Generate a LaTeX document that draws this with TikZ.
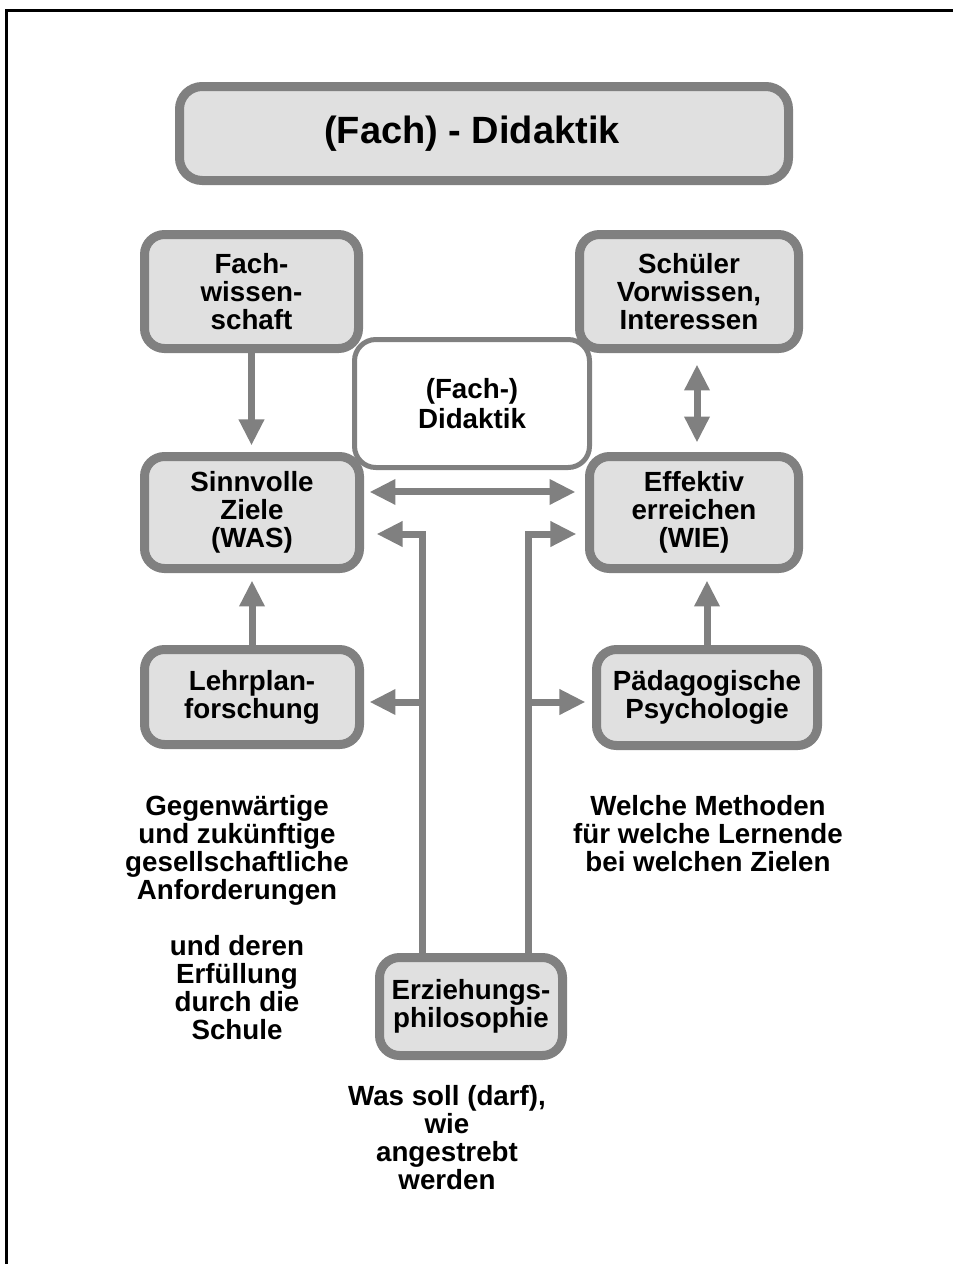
\documentclass[tikz,border=0pt]{standalone}
\usepackage{fontspec}
\setmainfont{Liberation Sans}
\usetikzlibrary{arrows.meta,calc}
\definecolor{bord}{HTML}{808080}
\definecolor{boxfill}{HTML}{E0E0E0}
\newcommand{\bodyfont}{\fontsize{20.8pt}{21pt}\selectfont\bfseries}
\newcommand{\titlefont}{\fontsize{28.5pt}{32pt}\selectfont\bfseries}
\begin{document}
\begin{tikzpicture}[x=0.75pt,y=-0.75pt,
  box/.style={draw=bord, line width=6.75pt, fill=boxfill, rounded corners=15pt,
    align=center, font=\bodyfont, inner sep=0pt},
  didbox/.style={draw=bord, line width=3.75pt, fill=white, rounded corners=16pt,
    align=center, font=\bodyfont, inner sep=0pt},
  txt/.style={align=center, font=\bodyfont, inner sep=0pt},
  conn/.style={draw=bord, line width=5.25pt, line join=miter},
  arr/.style={conn, -{Triangle[length=19.5pt,width=18pt]}},
  darr/.style={conn, {Triangle[length=19.5pt,width=18pt]}-{Triangle[length=19.5pt,width=18pt]}},
  frame/.style={draw=black, line width=2.25pt}]
\useasboundingbox (0,0) rectangle (953,1264);
\draw[frame] (6,1275) -- (6,10) -- (965,10);

% boxes
\node[box, font=\titlefont, minimum width=456.75pt, minimum height=70.5pt, rounded corners=17pt] (title) at (484,133.5) {(Fach) - Didaktik\hspace*{18pt}};
\node[box, minimum width=160.5pt, minimum height=85.5pt] (fach) at (251.5,291.5) {Fach-\\wissen-\\schaft};
\node[box, minimum width=164.25pt, minimum height=85.5pt] (schueler) at (689,291.5) {Schüler\\Vorwissen,\\Interessen};
\node[box, minimum width=161.25pt, minimum height=84pt] (sinn) at (252,512.5) {Sinnvolle\\Ziele\\(WAS)};
\node[box, minimum width=156.75pt, minimum height=84pt] (eff) at (694,512.5) {Effektiv\\erreichen\\(WIE)};
\node[box, minimum width=161.25pt, minimum height=71.25pt] (lehr) at (252,697) {Lehrplan-\\forschung};
\node[box, minimum width=165.75pt, minimum height=72pt] (paed) at (707,697.5) {Pädagogische\\Psychologie};
\node[box, minimum width=137.25pt, minimum height=73.5pt] (erz) at (471,1006.5) {Erziehungs-\\philosophie};
\node[didbox, minimum width=176.25pt, minimum height=96pt] (did) at (472,403.5) {(Fach-)\\[2pt]Didaktik};

% free texts
\node[txt] (lt) at (237,917.5) {Gegenwärtige\\und zukünftige\\gesellschaftliche\\Anforderungen\\[21pt]und deren\\Erfüllung\\durch die\\Schule};
\node[txt] (rt) at (708,834) {Welche Methoden\\für welche Lernende\\bei welchen Zielen};
\node[txt] (bt) at (447,1138) {Was soll (darf),\\wie\\angestrebt\\werden};

% helper coordinates
\coordinate (tl) at (422,534);
\coordinate (bl) at (422,702);
\coordinate (tr) at (528,534);
\coordinate (br) at (528,702);

% connectors
\draw[arr, shorten >=4.9pt] (fach.south) -- (fach.south |- sinn.north);
\draw[darr, shorten <=8.6pt, shorten >=7.1pt] ([xshift=6pt]schueler.south) -- ([xshift=2.25pt]eff.north);
\draw[darr, shorten <=4.1pt, shorten >=7.1pt] ([yshift=15.4pt]sinn.east) -- ([yshift=15.4pt]eff.west);
\draw[arr, shorten >=5.6pt] (lehr.north) -- (lehr.north |- sinn.south);
\draw[arr, shorten >=5.6pt] (paed.north) -- (paed.north |- eff.south);

\draw[arr, shorten >=9.4pt] (erz.north -| tl) -- (tl) -- (tl -| sinn.east);
\draw[arr, shorten >=4.1pt] (bl) -- (bl -| lehr.east);
\draw[arr, shorten >=6.4pt] (erz.north -| tr) -- (tr) -- (tr -| eff.west);
\draw[arr, shorten >=4.9pt] (br) -- (br -| paed.west);
\end{tikzpicture}
\end{document}
